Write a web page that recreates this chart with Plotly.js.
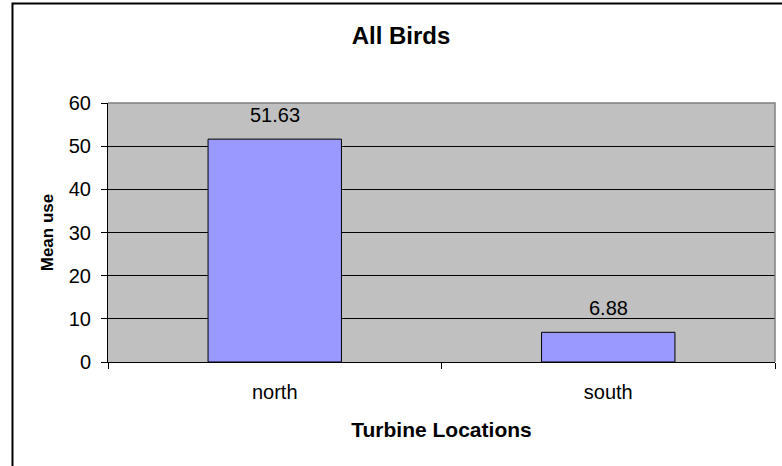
<!DOCTYPE html>
<html>
<head>
<meta charset="utf-8">
<script src="https://cdn.plot.ly/plotly-3.0.1.min.js"></script>
<style>html,body{margin:0;padding:0;background:#fff;}#chart{width:782px;height:466px;}</style>
</head>
<body>
<div id="chart"></div>
<script>
const categories = ["north", "south"];
const meanUse = [51.63, 6.88];
const labels = ["51.63", "6.88"];
const yTicks = [0, 10, 20, 30, 40, 50, 60];

const font = "Liberation Sans, Arial, sans-serif";

const trace = {
  type: "bar",
  x: categories,
  y: meanUse,
  width: 0.4,
  marker: { color: "#9999FF", line: { color: "#000000", width: 1 } },
  hoverinfo: "none"
};

const annotations = categories.map((c, i) => ({
  x: c, y: meanUse[i], xref: "x", yref: "y",
  text: labels[i], showarrow: false, yanchor: "bottom", yshift: 11,
  font: { family: font, size: 20, color: "#000" }
}));

const layout = {
  width: 782, height: 466,
  margin: { l: 108, r: 7, t: 103, b: 104 },
  paper_bgcolor: "#ffffff",
  plot_bgcolor: "#C0C0C0",
  showlegend: false,
  title: { text: "<b>All Birds</b>", xref: "container", x: 0.5128, xanchor: "center",
           yref: "container", y: 0.9227, yanchor: "middle",
           font: { family: font, size: 24, color: "#000" } },
  xaxis: {
    type: "category", automargin: false,
    tickson: "boundaries", ticks: "outside", ticklen: 6, tickcolor: "#000",
    showline: true, linecolor: "#000", linewidth: 1,
    showgrid: false, zeroline: false,
    ticklabelstandoff: 12,
    tickfont: { family: font, size: 20, color: "#000" },
    title: { text: "<b>Turbine Locations</b>", font: { family: font, size: 21, color: "#000" }, standoff: 20 }
  },
  yaxis: {
    range: [0, 60], tickvals: yTicks, ticktext: yTicks.map(String), automargin: false,
    ticks: "outside", ticklen: 6, tickcolor: "#000",
    showline: true, linecolor: "#000", linewidth: 1,
    showgrid: true, gridcolor: "#000", gridwidth: 1, zeroline: false,
    ticklabelstandoff: 6,
    tickfont: { family: font, size: 20, color: "#000" },
    title: { text: "<b>Mean use</b>", font: { family: font, size: 17, color: "#000" }, standoff: 10 }
  },
  annotations: annotations,
  shapes: [
    { type: "path", xref: "paper", yref: "paper",
      path: "M 1 0 L 1 1 L 0 1", line: { color: "#808080", width: 1.5 }, layer: "above" },
    { type: "path", xref: "paper", yref: "paper",
      path: "M -0.1432 -0.6 L -0.1432 1.3845 L 1.2 1.3845", line: { color: "#000", width: 2 } }
  ]
};

Plotly.newPlot("chart", [trace], layout, { displayModeBar: false, staticPlot: true });
</script>
</body>
</html>
